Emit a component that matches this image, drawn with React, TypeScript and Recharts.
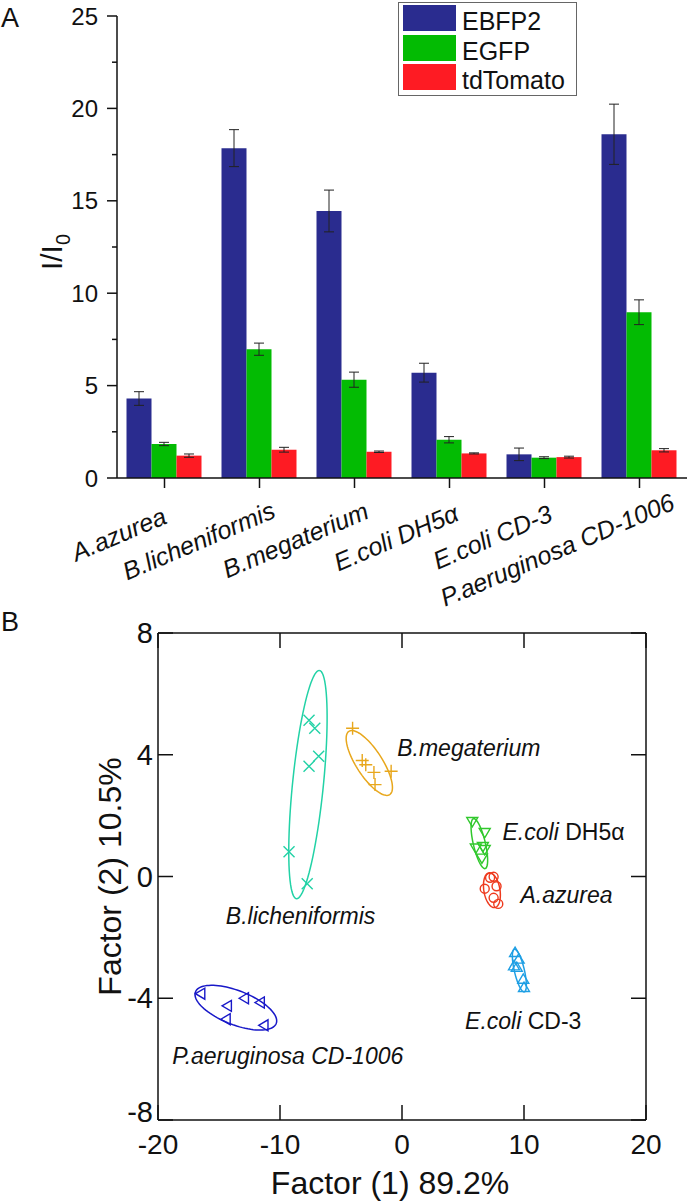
import React from "react"
import { BarChart, Bar, XAxis, YAxis, ErrorBar, Legend, ScatterChart, Scatter } from "recharts"

const FONT = "'Liberation Sans', Arial, Helvetica, sans-serif"
const INK = "#111"

// ---------- panel A: I/I0 per strain ----------
const strains = ["A.azurea", "B.licheniformis", "B.megaterium", "E.coli DH5α", "E.coli CD-3", "P.aeruginosa CD-1006"]
const ebfp2 = [4.3, 17.85, 14.45, 5.7, 1.28, 18.6]
const ebfp2Err = [0.37, 1.0, 1.13, 0.51, 0.34, 1.63]
const egfp = [1.84, 6.97, 5.32, 2.07, 1.1, 8.97]
const egfpErr = [0.09, 0.33, 0.41, 0.17, 0.05, 0.67]
const tdTomato = [1.21, 1.53, 1.42, 1.33, 1.13, 1.5]
const tdTomatoErr = [0.09, 0.13, 0.04, 0.03, 0.05, 0.09]
const barTicks = [0, 2.5, 5, 7.5, 10, 12.5, 15, 17.5, 20, 22.5, 25]

const barSeries = [
  { key: "ebfp2", name: "EBFP2", color: "#2a2c8f" },
  { key: "egfp", name: "EGFP", color: "#03bb03" },
  { key: "tdTomato", name: "tdTomato", color: "#fe1b23" },
]

const barData = strains.map((name, i) => ({
  name,
  ebfp2: ebfp2[i],
  ebfp2Err: ebfp2Err[i],
  egfp: egfp[i],
  egfpErr: egfpErr[i],
  tdTomato: tdTomato[i],
  tdTomatoErr: tdTomatoErr[i],
}))

// ---------- panel B: factor scores ----------
const factorTicksX = [-20, -10, 0, 10, 20]
const factorTicksY = [-8, -4, 0, 4, 8]

const bLichX = [-7.62, -7.15, -6.83, -7.62, -9.26, -7.77]
const bLichY = [5.13, 4.87, 3.95, 3.62, 0.81, -0.24]
const bMegX = [-4.05, -3.26, -2.97, -2.3, -0.89, -2.21]
const bMegY = [4.87, 3.81, 3.67, 3.42, 3.46, 3.02]
const dh5aX = [5.76, 6.78, 6.63, 6.05, 6.78, 6.55]
const dh5aY = [1.81, 1.45, 0.99, 0.94, 0.89, 0.61]
const azureaX = [7.22, 7.51, 7.75, 6.78, 7.51, 7.89]
const azureaY = [-0.04, -0.01, -0.32, -0.4, -0.7, -0.9]
const cd3X = [9.27, 9.56, 9.18, 9.41, 9.94, 10.0]
const cd3Y = [-2.5, -2.72, -2.94, -2.99, -3.38, -3.65]
const paerX = [-16.48, -14.3, -12.9, -11.6, -14.4, -11.3]
const paerY = [-3.85, -4.25, -4.0, -4.14, -4.69, -4.89]

// confidence ellipses: centre, half major axis vector, half minor axis vector (data units)
const bLichEllipse = { cx: -7.71, cy: 3.02, ax: 0.94, ay: 3.75, bx: 1.26, by: -0.05 }
const bMegEllipse = { cx: -2.68, cy: 3.73, ax: -1.67, ay: 1.04, bx: 0.9, by: 0.23 }
const dh5aEllipse = { cx: 6.34, cy: 1.08, ax: -0.48, ay: 0.82, bx: 0.48, by: 0.045 }
const azureaEllipse = { cx: 7.37, cy: -0.45, ax: -0.24, ay: 0.57, bx: 0.65, by: 0.043 }
const cd3Ellipse = { cx: 9.62, cy: -3.09, ax: -0.41, ay: 0.7, bx: 0.4, by: 0.037 }
const paerEllipse = { cx: -13.62, cy: -4.31, ax: -3.31, ay: 0.52, bx: 0.51, by: 0.52 }

const groups = [
  { name: "B.licheniformis", xs: bLichX, ys: bLichY, ell: bLichEllipse, kind: "x", color: "#22d2a6" },
  { name: "B.megaterium", xs: bMegX, ys: bMegY, ell: bMegEllipse, kind: "+", color: "#e8a71c" },
  { name: "E.coli DH5α", xs: dh5aX, ys: dh5aY, ell: dh5aEllipse, kind: "down", color: "#30c82c" },
  { name: "A.azurea", xs: azureaX, ys: azureaY, ell: azureaEllipse, kind: "o", color: "#ee3a1e" },
  { name: "E.coli CD-3", xs: cd3X, ys: cd3Y, ell: cd3Ellipse, kind: "up", color: "#1e9fe4" },
  { name: "P.aeruginosa CD-1006", xs: paerX, ys: paerY, ell: paerEllipse, kind: "left", color: "#1818c8" },
]

// strain names written next to the clusters (left end of baseline, data units)
const clusterLabels = [
  { x: -0.39, y: 3.95, parts: [{ t: "B.megaterium", i: true }] },
  { x: 8.24, y: 1.21, parts: [{ t: "E.coli", i: true }, { t: " DH5α", i: false }] },
  { x: 9.71, y: -0.86, parts: [{ t: "A.azurea", i: true }] },
  { x: -14.44, y: -1.57, parts: [{ t: "B.licheniformis", i: true }] },
  { x: 5.17, y: -5.02, parts: [{ t: "E.coli", i: true }, { t: " CD-3", i: false }] },
  { x: -18.83, y: -6.16, parts: [{ t: "P.aeruginosa CD-1006", i: true }] },
]

function ellipsePoints(e: any) {
  const pts = []
  for (let k = 0; k <= 90; k++) {
    const t = (k / 90) * Math.PI * 2
    pts.push({ x: e.cx + e.ax * Math.cos(t) + e.bx * Math.sin(t), y: e.cy + e.ay * Math.cos(t) + e.by * Math.sin(t) })
  }
  return pts
}

let measureCtx: CanvasRenderingContext2D | null = null
function textWidth(s: string, font: string) {
  if (typeof document !== "undefined") {
    if (!measureCtx) measureCtx = document.createElement("canvas").getContext("2d")
    if (measureCtx) {
      measureCtx.font = font
      return measureCtx.measureText(s).width
    }
  }
  return s.length * 12
}

// ---------- ticks ----------
function BarYTick({ x, y, payload }: any) {
  const major = payload.value % 5 === 0
  return (
    <g>
      <line x1={x} y1={y} x2={x - (major ? 10 : 5)} y2={y} stroke={INK} strokeWidth={1.5} />
      {major && (
        <text x={x - 19} y={y + 8.5} textAnchor="end" fontSize={24} fontFamily={FONT} fill={INK}>
          {payload.value}
        </text>
      )}
    </g>
  )
}

const X_LABEL_SIZE = 25
const X_LABEL_ANGLE = -23

function BarXTick({ x, y, payload }: any) {
  const label = String(payload.value)
  const w = textWidth(label, `italic ${X_LABEL_SIZE}px 'Liberation Sans'`)
  const bx = x - 18
  const by = y + 54
  return (
    <g>
      <line x1={x} y1={y} x2={x} y2={y + 10} stroke={INK} strokeWidth={1.5} />
      <text
        x={bx}
        y={by}
        dx={0.237 * w}
        textAnchor="end"
        transform={`rotate(${X_LABEL_ANGLE} ${bx} ${by})`}
        fontSize={X_LABEL_SIZE}
        fontStyle="italic"
        fontFamily={FONT}
        fill={INK}
      >
        {label}
      </text>
    </g>
  )
}

function PcaBottomTick({ x, y, payload }: any) {
  return (
    <g>
      <line x1={x} y1={y} x2={x} y2={y - 15} stroke={INK} strokeWidth={1.5} />
      <text x={x} y={y + 34} textAnchor="middle" fontSize={28} fontFamily={FONT} fill={INK}>
        {payload.value}
      </text>
    </g>
  )
}

function PcaTopTick({ x, y }: any) {
  return <line x1={x} y1={y} x2={x} y2={y + 15} stroke={INK} strokeWidth={1.5} />
}

function PcaLeftTick({ x, y, payload }: any) {
  // lowest label sits a little higher so it clears the x tick label below it
  const dy = payload.value === -8 ? 2 : 10
  return (
    <g>
      <line x1={x} y1={y} x2={x + 15} y2={y} stroke={INK} strokeWidth={1.5} />
      <text x={x - 5} y={y + dy} textAnchor="end" fontSize={29} fontFamily={FONT} fill={INK}>
        {payload.value}
      </text>
    </g>
  )
}

function PcaRightTick({ x, y }: any) {
  return <line x1={x} y1={y} x2={x - 15} y2={y} stroke={INK} strokeWidth={1.5} />
}

function Marker({ cx, cy, kind, color }: any) {
  const r = 5.5
  const common = { stroke: color, strokeWidth: 1.4, fill: "none" }
  if (kind === "x") return <path d={`M${cx - r},${cy - r}L${cx + r},${cy + r}M${cx - r},${cy + r}L${cx + r},${cy - r}`} {...common} />
  if (kind === "+") return <path d={`M${cx - r - 1},${cy}L${cx + r + 1},${cy}M${cx},${cy - r - 1}L${cx},${cy + r + 1}`} {...common} />
  if (kind === "o") return <circle cx={cx} cy={cy} r={4.5} {...common} />
  if (kind === "down") return <path d={`M${cx - r},${cy - r * 0.7}L${cx + r},${cy - r * 0.7}L${cx},${cy + r}Z`} {...common} />
  if (kind === "up") return <path d={`M${cx - r},${cy + r * 0.7}L${cx + r},${cy + r * 0.7}L${cx},${cy - r}Z`} {...common} />
  return <path d={`M${cx - r},${cy}L${cx + r * 0.7},${cy - r}L${cx + r * 0.7},${cy + r}Z`} {...common} />
}

function ClusterLabel({ cx, cy, payload }: any) {
  return (
    <text x={cx} y={cy} fontSize={23} fontFamily={FONT} fill={INK}>
      {payload.parts.map((p: any, i: number) => (
        <tspan key={i} fontStyle={p.i ? "italic" : "normal"}>
          {p.t}
        </tspan>
      ))}
    </text>
  )
}

function BarLegend() {
  return (
    <div
      style={{
        position: "relative",
        width: 179,
        height: 94,
        border: "1px solid #666",
        boxSizing: "border-box",
        background: "#fff",
        fontFamily: FONT,
        fontSize: 25,
        color: INK,
      }}
    >
      {barSeries.map((s, i) => (
        <div key={s.key} style={{ position: "absolute", left: 4, top: 2 + i * 29.5, height: 27, display: "flex" }}>
          <div style={{ width: 53, height: 26, background: s.color }} />
          <span style={{ marginLeft: 6, lineHeight: "26px", position: "relative", top: 3 }}>{s.name}</span>
        </div>
      ))}
    </div>
  )
}

function PanelLetter({ children, top }: any) {
  return (
    <div style={{ position: "absolute", left: 1, top, fontFamily: FONT, fontSize: 27, lineHeight: "28px", color: INK }}>
      {children}
    </div>
  )
}

export default function App() {
  const axisLine = { stroke: INK, strokeWidth: 1.5 }
  return (
    <div style={{ position: "absolute", left: 0, top: 0, width: 689, height: 1203, background: "#fff", overflow: "hidden" }}>
      <div style={{ position: "absolute", left: 0, top: 0 }}>
        <BarChart
          width={689}
          height={620}
          data={barData}
          margin={{ top: 16, right: 2, left: 0, bottom: 0 }}
          barCategoryGap="10%"
          barGap={0}
        >
          <XAxis
            dataKey="name"
            interval={0}
            height={142}
            tickSize={0}
            tickMargin={0}
            tickLine={false}
            axisLine={axisLine}
            tick={<BarXTick />}
          />
          <YAxis
            type="number"
            domain={[0, 25]}
            ticks={barTicks}
            interval={0}
            width={117}
            tickSize={0}
            tickMargin={0}
            tickLine={false}
            axisLine={axisLine}
            tick={<BarYTick />}
            label={(p: any) => {
              const vb = p.viewBox
              const cx = 62
              const cy = vb.y + vb.height / 2 + 5
              return (
                <text
                  x={cx}
                  y={cy}
                  textAnchor="middle"
                  transform={`rotate(-90 ${cx} ${cy})`}
                  fontSize={30}
                  fontFamily={FONT}
                  fill={INK}
                >
                  I/I
                  <tspan fontSize={20} dy={8}>
                    0
                  </tspan>
                </text>
              )
            }}
          />
          <Legend
            layout="vertical"
            align="center"
            verticalAlign="middle"
            wrapperStyle={{ top: 2, left: 398, width: 179, height: 94 }}
            content={<BarLegend />}
          />
          {barSeries.map((s) => (
            <Bar key={s.key} dataKey={s.key} name={s.name} fill={s.color} isAnimationActive={false}>
              <ErrorBar dataKey={`${s.key}Err`} width={5} stroke="#222" strokeWidth={1} />
            </Bar>
          ))}
        </BarChart>
      </div>

      <div style={{ position: "absolute", left: 0, top: 600 }}>
        <ScatterChart width={689} height={603} margin={{ top: 32, right: 42, left: 0, bottom: 0 }}>
          <XAxis
            xAxisId="bottom"
            type="number"
            dataKey="x"
            domain={[-20, 20]}
            ticks={factorTicksX}
            interval={0}
            allowDataOverflow
            height={83}
            tickSize={0}
            tickMargin={0}
            tickLine={false}
            axisLine={axisLine}
            tick={<PcaBottomTick />}
            label={(p: any) => {
              const vb = p.viewBox
              return (
                <text x={vb.x + vb.width / 2 - 12} y={vb.y + 74} textAnchor="middle" fontSize={32} fontFamily={FONT} fill={INK}>
                  Factor (1) 89.2%
                </text>
              )
            }}
          />
          <XAxis
            xAxisId="top"
            orientation="top"
            type="number"
            dataKey="x"
            domain={[-20, 20]}
            ticks={factorTicksX}
            interval={0}
            allowDataOverflow
            height={1}
            tickSize={0}
            tickMargin={0}
            tickLine={false}
            axisLine={axisLine}
            tick={<PcaTopTick />}
          />
          <YAxis
            yAxisId="left"
            type="number"
            dataKey="y"
            domain={[-8, 8]}
            ticks={factorTicksY}
            interval={0}
            allowDataOverflow
            width={158}
            tickSize={0}
            tickMargin={0}
            tickLine={false}
            axisLine={axisLine}
            tick={<PcaLeftTick />}
            label={(p: any) => {
              const vb = p.viewBox
              const cx = 121
              const cy = vb.y + vb.height / 2
              return (
                <text
                  x={cx}
                  y={cy}
                  textAnchor="middle"
                  transform={`rotate(-90 ${cx} ${cy})`}
                  fontSize={32}
                  fontFamily={FONT}
                  fill={INK}
                >
                  Factor (2) 10.5%
                </text>
              )
            }}
          />
          <YAxis
            yAxisId="right"
            orientation="right"
            type="number"
            dataKey="y"
            domain={[-8, 8]}
            ticks={factorTicksY}
            interval={0}
            allowDataOverflow
            width={1}
            tickSize={0}
            tickMargin={0}
            tickLine={false}
            axisLine={axisLine}
            tick={<PcaRightTick />}
          />
          {groups.map((g) => (
            <Scatter
              key={`${g.name}-ellipse`}
              xAxisId="bottom"
              yAxisId="left"
              data={ellipsePoints(g.ell)}
              line={{ stroke: g.color, strokeWidth: 1.5 }}
              lineType="joint"
              shape={() => <g />}
              isAnimationActive={false}
            />
          ))}
          {groups.map((g) => (
            <Scatter
              key={g.name}
              name={g.name}
              xAxisId="bottom"
              yAxisId="left"
              data={g.xs.map((x, i) => ({ x, y: g.ys[i] }))}
              shape={(p: any) => <Marker cx={p.cx} cy={p.cy} kind={g.kind} color={g.color} />}
              isAnimationActive={false}
            />
          ))}
          <Scatter
            xAxisId="bottom"
            yAxisId="left"
            data={clusterLabels}
            shape={(p: any) => <ClusterLabel {...p} />}
            isAnimationActive={false}
          />
        </ScatterChart>
      </div>

      <PanelLetter top={4}>A</PanelLetter>
      <PanelLetter top={608}>B</PanelLetter>
    </div>
  )
}
